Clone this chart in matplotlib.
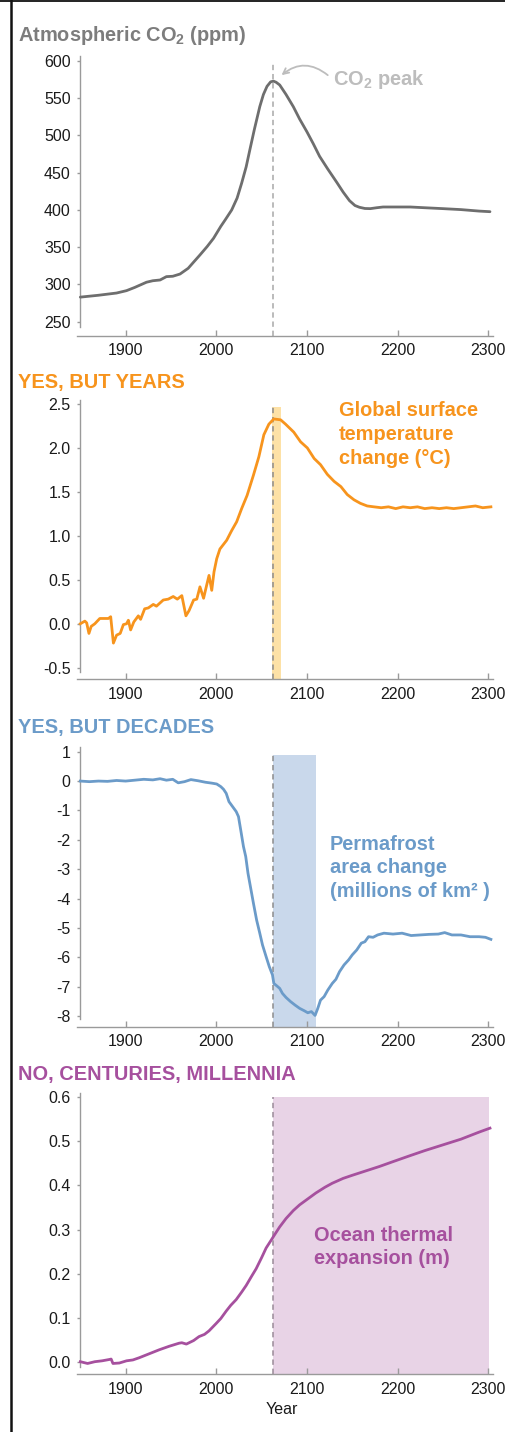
import matplotlib
matplotlib.use('Agg')
import matplotlib.pyplot as plt
from matplotlib.lines import Line2D

plt.rcParams['font.family'] = ['Liberation Sans', 'DejaVu Sans']
plt.rcParams['axes.unicode_minus'] = False
plt.rcParams['mathtext.fontset'] = 'custom'
plt.rcParams['mathtext.rm'] = 'Liberation Sans'
plt.rcParams['mathtext.bf'] = 'Liberation Sans:bold'

# ---------------- data ----------------
co2_years = [1850, 1870, 1890, 1901, 1910, 1923, 1930, 1938, 1945, 1952,
             1960, 1969, 1975, 1982, 1990, 1997, 2005, 2010, 2017, 2023,
             2028, 2033, 2037, 2042, 2048, 2052, 2056, 2060, 2063, 2066,
             2070, 2077, 2085, 2092, 2100, 2107, 2114, 2123, 2133, 2140,
             2147, 2153, 2158, 2164, 2170, 2177, 2184, 2200, 2214, 2230,
             2250, 2270, 2290, 2302]
co2_ppm = [283, 285.5, 288.5, 291.7, 296, 303, 305, 306, 310.5, 311,
           314, 321.7, 330, 339.6, 351, 362, 378, 387, 400, 416,
           436, 458, 480.5, 508, 538.7, 555, 566, 572, 573, 571.5,
           567.8, 555, 538.7, 522, 505, 489, 472, 455, 437, 424,
           412.5, 406, 403.6, 402, 401.8, 403, 404, 404, 404, 403,
           401.8, 400.5, 398.5, 397.7]

temp_years = [1850, 1855, 1857, 1859.5, 1862, 1866, 1871.5, 1877, 1881, 1883.5,
              1886.5, 1890, 1894, 1897.5, 1901, 1903, 1905.5, 1909, 1914, 1916.5,
              1921, 1925, 1930.5, 1934, 1941.5, 1947, 1952.5, 1957, 1962, 1966.5,
              1970, 1975, 1978.5, 1982, 1986, 1988.5, 1992, 1995, 1997.5, 2000.5,
              2004, 2011.5, 2017, 2022.5, 2028, 2034, 2041, 2047, 2052.5, 2058,
              2063.5, 2071, 2076.5, 2085.5, 2093, 2100.5, 2108, 2115, 2122.5, 2130,
              2137.5, 2144.5, 2152, 2159, 2166.5, 2174, 2182, 2190, 2198, 2206,
              2214, 2222, 2230, 2238, 2246, 2254, 2262, 2270, 2278, 2286,
              2294, 2303]
temp_change = [0.0, 0.03, 0.01, -0.11, -0.03, 0.0, 0.06, 0.06, 0.06, 0.08,
               -0.22, -0.13, -0.11, -0.01, 0.0, 0.04, -0.07, 0.02, 0.09, 0.05,
               0.17, 0.18, 0.22, 0.20, 0.27, 0.28, 0.31, 0.28, 0.32, 0.09,
               0.15, 0.27, 0.28, 0.42, 0.29, 0.40, 0.55, 0.38, 0.59, 0.74,
               0.85, 0.95, 1.06, 1.16, 1.31, 1.46, 1.69, 1.90, 2.15, 2.27,
               2.33, 2.32, 2.27, 2.18, 2.07, 2.00, 1.88, 1.81, 1.70, 1.62,
               1.56, 1.47, 1.41, 1.37, 1.34, 1.33, 1.32, 1.33, 1.31, 1.33,
               1.32, 1.33, 1.31, 1.32, 1.31, 1.32, 1.31, 1.32, 1.33, 1.34,
               1.32, 1.33]

perm_years = [1850, 1860, 1870, 1880, 1890, 1900, 1910, 1920, 1930, 1938,
              1945, 1952, 1958, 1965, 1972, 1980, 1988, 1995, 2000.5, 2005,
              2008, 2011, 2014, 2018, 2022, 2024.5, 2027, 2030, 2032.5, 2035,
              2038, 2041, 2044.5, 2048, 2051, 2055, 2058.5, 2062, 2063.5, 2067,
              2070, 2073, 2077, 2082, 2087, 2092, 2097, 2101, 2105, 2109,
              2112, 2115, 2119, 2123, 2128, 2132, 2136, 2141, 2146, 2150,
              2155, 2160, 2164, 2168, 2173, 2178, 2185, 2195, 2205, 2215,
              2225, 2235, 2245, 2252, 2260, 2270, 2280, 2290, 2297, 2303]
perm_area = [0.0, -0.02, 0.0, -0.01, 0.02, 0.0, 0.03, 0.06, 0.04, 0.08,
             0.03, 0.06, -0.06, -0.02, 0.05, 0.01, -0.04, -0.07, -0.10, -0.19,
             -0.28, -0.42, -0.70, -0.87, -1.04, -1.21, -1.67, -2.23, -2.57, -3.14,
             -3.65, -4.16, -4.73, -5.18, -5.58, -5.98, -6.32, -6.60, -6.89, -6.98,
             -7.06, -7.23, -7.37, -7.51, -7.63, -7.74, -7.82, -7.89, -7.85, -7.98,
             -7.74, -7.46, -7.34, -7.12, -6.89, -6.75, -6.49, -6.26, -6.09, -5.92,
             -5.75, -5.52, -5.47, -5.30, -5.32, -5.24, -5.18, -5.21, -5.18, -5.26,
             -5.24, -5.22, -5.21, -5.16, -5.24, -5.24, -5.30, -5.30, -5.32, -5.39]

ocean_years = [1850, 1858, 1866, 1874, 1882, 1884, 1886, 1893, 1901, 1908,
               1915, 1926, 1937, 1948, 1959, 1962, 1967, 1975, 1981, 1987,
               1992, 2000, 2005, 2011, 2016, 2022, 2028, 2033, 2039, 2044,
               2050, 2055, 2060, 2064, 2070, 2077, 2085, 2092, 2100, 2110,
               2120, 2128, 2140, 2150, 2165, 2180, 2195, 2213, 2230, 2250,
               2270, 2290, 2302]
ocean_exp = [0.0, -0.004, 0.0, 0.002, 0.005, 0.006, -0.004, -0.003, 0.002, 0.004,
             0.009, 0.018, 0.027, 0.035, 0.042, 0.043, 0.040, 0.048, 0.057, 0.062,
             0.070, 0.087, 0.098, 0.115, 0.128, 0.141, 0.158, 0.173, 0.194, 0.211,
             0.236, 0.258, 0.274, 0.287, 0.306, 0.325, 0.343, 0.356, 0.368, 0.383,
             0.396, 0.405, 0.416, 0.423, 0.433, 0.443, 0.454, 0.467, 0.479, 0.492,
             0.505, 0.521, 0.530]

peak_year = 2063
x_ticks = [1900, 2000, 2100, 2200, 2300]
co2_ticks = [250, 300, 350, 400, 450, 500, 550, 600]
temp_ticks = [-0.5, 0.0, 0.5, 1.0, 1.5, 2.0, 2.5]
perm_ticks = [-8, -7, -6, -5, -4, -3, -2, -1, 0, 1]
ocean_ticks = [0.0, 0.1, 0.2, 0.3, 0.4, 0.5, 0.6]

temp_band = (2062, 2071, 2.47)
perm_band = (2063, 2110, 0.89)
ocean_band = (2063, 2301, 0.60)

titles = ['Atmospheric CO$_\\mathbf{2}$ (ppm)', 'YES, BUT YEARS', 'YES, BUT DECADES',
          'NO, CENTURIES, MILLENNIA']

# ---------------- styling ----------------
GRAY_LINE = '#6e6e6e'
GRAY_TITLE = '#7d7d7d'
GRAY_NOTE = '#bdbdbd'
ORANGE = '#f7941d'
ORANGE_BAND = '#fde1a6'
BLUE = '#6b9bc9'
BLUE_BAND = '#c9d8eb'
PURPLE = '#a6509e'
PURPLE_BAND = '#e8d3e6'
SPINE = '#9a9a9a'

W, H = 506, 1432
fig = plt.figure(figsize=(W / 100, H / 100), dpi=100)
fig.patch.set_facecolor('white')

X_LEFT_PX, X_RIGHT_PX = 76.7, 492.7
XLIM = (1846, 2305)


def ftext(xpx, ypx, s, **kw):
    return fig.text(xpx / W, 1 - ypx / H, s, va='baseline', **kw)


def make_axes(tick_hi, tick_lo, top_px, bottom_px, spine_low_px, yticks, fmt):
    (v1, p1), (v2, p2) = tick_hi, tick_lo
    s = (v1 - v2) / (p2 - p1)

    def val(p):
        return v1 - (p - p1) * s

    ax = fig.add_axes([X_LEFT_PX / W, 1 - bottom_px / H,
                       (X_RIGHT_PX - X_LEFT_PX) / W, (bottom_px - top_px) / H])
    ax.set_xlim(*XLIM)
    ax.set_ylim(val(bottom_px), val(top_px))
    for sp in ['top', 'right']:
        ax.spines[sp].set_visible(False)
    for sp in ['left', 'bottom']:
        ax.spines[sp].set_color(SPINE)
        ax.spines[sp].set_linewidth(1.0)
    ax.spines['left'].set_position(('data', 1850))
    ax.spines['left'].set_bounds(val(spine_low_px), val(top_px))
    ax.set_xticks(x_ticks)
    ax.set_xticklabels([str(t) for t in x_ticks])
    ax.set_yticks(yticks)
    ax.set_yticklabels([fmt.format(t) for t in yticks])
    ax.tick_params(axis='x', direction='in', length=4, width=1.0, color=SPINE,
                   pad=5.5, labelsize=11.5, labelcolor='#1a1a1a')
    ax.tick_params(axis='y', direction='out', length=2.5, width=1.0, color=SPINE,
                   pad=4.5, labelsize=11.5, labelcolor='#1a1a1a')
    ax.set_facecolor('none')
    return ax, val


# Panel 1: CO2
ax1, v1f = make_axes((600, 61.0), (250, 321.7), 56, 335.7, 326.7, co2_ticks, '{:d}')
ylo = ax1.get_ylim()[0]
ax1.vlines(peak_year, ylo, 598, colors='#a8a8a8', linestyles=(0, (3.5, 2.5)), lw=1.1, zorder=2)
ax1.plot(co2_years, co2_ppm, color=GRAY_LINE, lw=2.0, zorder=3, solid_capstyle='round')
ax1.annotate('', xy=(2072, 581), xytext=(2123, 581), xycoords='data', textcoords='data',
             arrowprops=dict(arrowstyle='->', color=GRAY_NOTE, lw=1.3,
                             connectionstyle='arc3,rad=0.4', shrinkA=0, shrinkB=0,
                             mutation_scale=10))

# Panel 2: temperature
ax2, v2f = make_axes((2.5, 404.0), (-0.5, 667.7), 400, 679.3, 671.7, temp_ticks, '{:.1f}')
ylo = ax2.get_ylim()[0]
ax2.fill_between([temp_band[0], temp_band[1]], ylo, temp_band[2], color=ORANGE_BAND, lw=0, zorder=1)
ax2.vlines(peak_year, ylo, temp_band[2], colors='#8c8c8c', linestyles=(0, (3.5, 2.5)), lw=1.1, zorder=2)
ax2.plot(temp_years, temp_change, color=ORANGE, lw=2.0, zorder=3)

# Panel 3: permafrost
ax3, v3f = make_axes((1, 751.7), (-8, 1016.0), 747.3, 1026.7, 1019, perm_ticks, '{:d}')
ylo = ax3.get_ylim()[0]
ax3.fill_between([perm_band[0], perm_band[1]], ylo, perm_band[2], color=BLUE_BAND, lw=0, zorder=1)
ax3.vlines(peak_year, ylo, perm_band[2], colors='#8c8c8c', linestyles=(0, (3.5, 2.5)), lw=1.1, zorder=2)
ax3.plot(perm_years, perm_area, color=BLUE, lw=2.0, zorder=3)

# Panel 4: ocean
ax4, v4f = make_axes((0.6, 1097.3), (0.0, 1361.7), 1093.3, 1374.3, 1366.7, ocean_ticks, '{:.1f}')
ylo = ax4.get_ylim()[0]
ax4.fill_between([ocean_band[0], ocean_band[1]], ylo, ocean_band[2], color=PURPLE_BAND, lw=0, zorder=1)
ax4.vlines(peak_year, ylo, ocean_band[2], colors='#9a8a98', linestyles=(0, (3.5, 2.5)), lw=1.1, zorder=2)
ax4.plot(ocean_years, ocean_exp, color=PURPLE, lw=2.0, zorder=3)

# ---------------- texts ----------------
TS = 14.4
ftext(18, 40.7, titles[0], fontsize=TS, fontweight='bold', color=GRAY_TITLE)
ftext(18, 388.3, titles[1], fontsize=TS, fontweight='bold', color=ORANGE)
ftext(18, 733.3, titles[2], fontsize=TS, fontweight='bold', color=BLUE)
ftext(18, 1080, titles[3], fontsize=TS, fontweight='bold', color=PURPLE)

ftext(333, 85, 'CO$_\\mathbf{2}$ peak', fontsize=TS, fontweight='bold', color=GRAY_NOTE)

for i, line in enumerate(['Global surface', 'temperature', 'change (\u00b0C)']):
    ftext(339, 416 + 24 * i, line, fontsize=TS, fontweight='bold', color=ORANGE)
for i, line in enumerate(['Permafrost', 'area change', '(millions of km\u00b2 )']):
    ftext(330, 850 + 23.3 * i, line, fontsize=TS, fontweight='bold', color=BLUE)
for i, line in enumerate(['Ocean thermal', 'expansion (m)']):
    ftext(314, 1240.7 + 23.3 * i, line, fontsize=TS, fontweight='bold', color=PURPLE)

ftext(281.7, 1413.5, 'Year', fontsize=11.5, color='#1a1a1a', ha='center')

# frame lines (top and left)
fig.add_artist(Line2D([0, 1], [1 - 0.8 / H, 1 - 0.8 / H], transform=fig.transFigure,
                      color='#111111', lw=1.3))
fig.add_artist(Line2D([10.7 / W, 10.7 / W], [0, 1], transform=fig.transFigure,
                      color='#111111', lw=1.8))

fig.savefig('out.png', dpi=100, facecolor='white')
